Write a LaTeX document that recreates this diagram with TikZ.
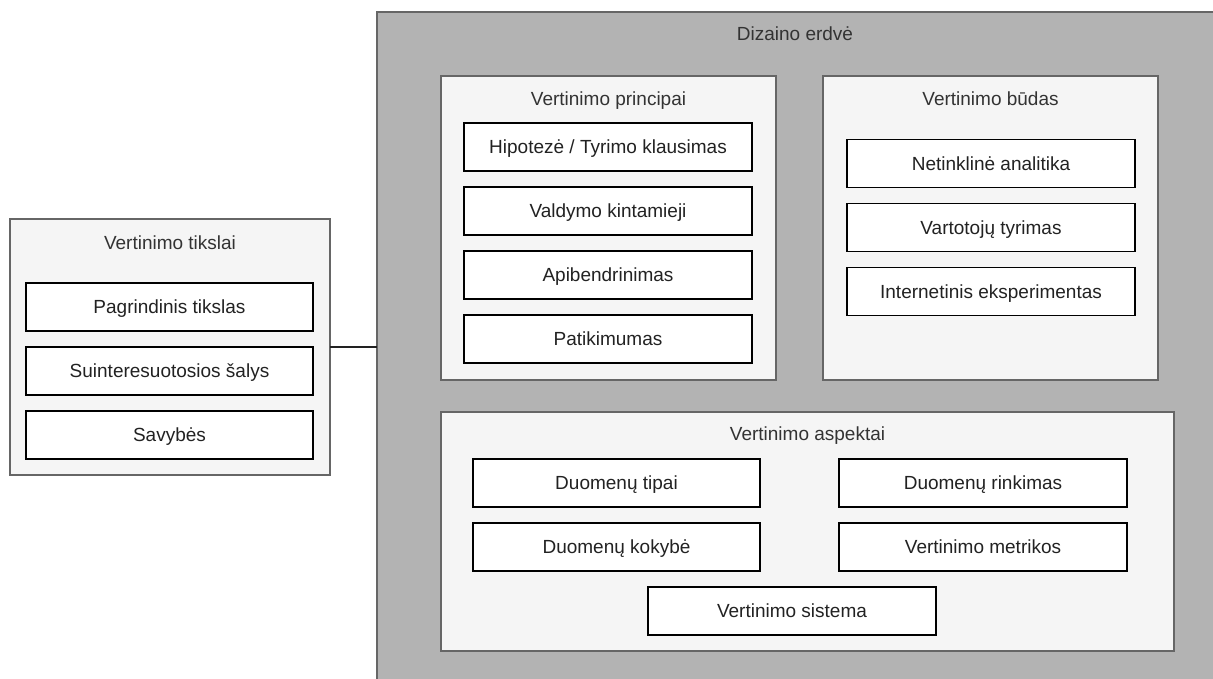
\documentclass[tikz,border=0pt]{standalone}
\usepackage{fontspec}
\setmainfont{Liberation Sans}
\definecolor{cgrayfill}{HTML}{B3B3B3}
\definecolor{cstroke}{HTML}{666666}
\definecolor{clight}{HTML}{F5F5F5}
\definecolor{ctext}{HTML}{333333}
\definecolor{citem}{HTML}{222222}
\tikzset{
  bigarea/.style={draw=cstroke, fill=cgrayfill, line width=1.3pt, inner sep=0pt, outer sep=0pt},
  groupbox/.style={draw=cstroke, fill=clight, line width=1.3pt, inner sep=0pt, outer sep=0pt},
  itembox/.style={draw=black, fill=white, line width=1.5pt, minimum width=287pt, minimum height=48pt,
     inner sep=0pt, outer sep=0pt, text=citem, text height=13.5pt, text depth=0pt,
     font=\fontsize{19pt}{22pt}\selectfont},
  titletext/.style={text=ctext, font=\fontsize{19pt}{22pt}\selectfont, inner sep=0pt,
     text height=13.5pt, text depth=0pt},
  connector/.style={draw=citem, line width=1.3pt}
}
\begin{document}
\begin{tikzpicture}[x=1pt,y=-1pt]
\useasboundingbox (0,0) rectangle (1213,679);
\fill[white] (0,0) rectangle (1213,679);
\begin{scope}
\clip (0,0) rectangle (1213,679);
% big design space (extends past the right edge of the picture)
\node[bigarea, minimum width=963pt, minimum height=670pt] (dizainas) at (858.5,347) {};
\node[titletext] (dizainastitle) at (795,34) {Dizaino erdvė};

% left container
\node[groupbox, minimum width=320pt, minimum height=256pt] (tikslai) at (170,347) {};
\node[titletext] (tikslaititle) at (170,243) {Vertinimo tikslai};
\node[itembox] (t1) at (169.5,307) {Pagrindinis tikslas};
\node[itembox] (t2) at (169.5,371) {Suinteresuotosios šalys};
\node[itembox] (t3) at (169.5,435) {Savybės};

% principai
\node[groupbox, minimum width=335pt, minimum height=304pt] (principai) at (608.5,228) {};
\node[titletext] (principaititle) at (608.5,99) {Vertinimo principai};
\node[itembox, minimum width=288pt] (p1) at (608,147) {Hipotezė / Tyrimo klausimas};
\node[itembox, minimum width=288pt] (p2) at (608,211) {Valdymo kintamieji};
\node[itembox, minimum width=288pt] (p3) at (608,275) {Apibendrinimas};
\node[itembox, minimum width=288pt] (p4) at (608,339) {Patikimumas};

% budas
\node[groupbox, minimum width=335pt, minimum height=304pt] (budas) at (990.5,228) {};
\node[titletext] (budastitle) at (990.5,99) {Vertinimo būdas};
\node[itembox, minimum width=288pt] (b1) at (991,163.5) {Netinklinė analitika};
\node[itembox, minimum width=288pt] (b2) at (991,227.5) {Vartotojų tyrimas};
\node[itembox, minimum width=288pt] (b3) at (991,291.5) {Internetinis eksperimentas};

% aspektai
\node[groupbox, minimum width=733pt, minimum height=239pt] (aspektai) at (807.5,531.5) {};
\node[titletext] (aspektaititle) at (807.5,434) {Vertinimo aspektai};
\node[itembox] (a1) at (616.5,483) {Duomenų tipai};
\node[itembox, minimum width=288pt] (a2) at (983,483) {Duomenų rinkimas};
\node[itembox] (a3) at (616.5,547) {Duomenų kokybė};
\node[itembox, minimum width=288pt] (a4) at (983,547) {Vertinimo metrikos};
\node[itembox, minimum width=288pt] (a5) at (792,611) {Vertinimo sistema};

% connector
\draw[connector] (tikslai.east) -- (dizainas.west);
\end{scope}
\end{tikzpicture}
\end{document}
